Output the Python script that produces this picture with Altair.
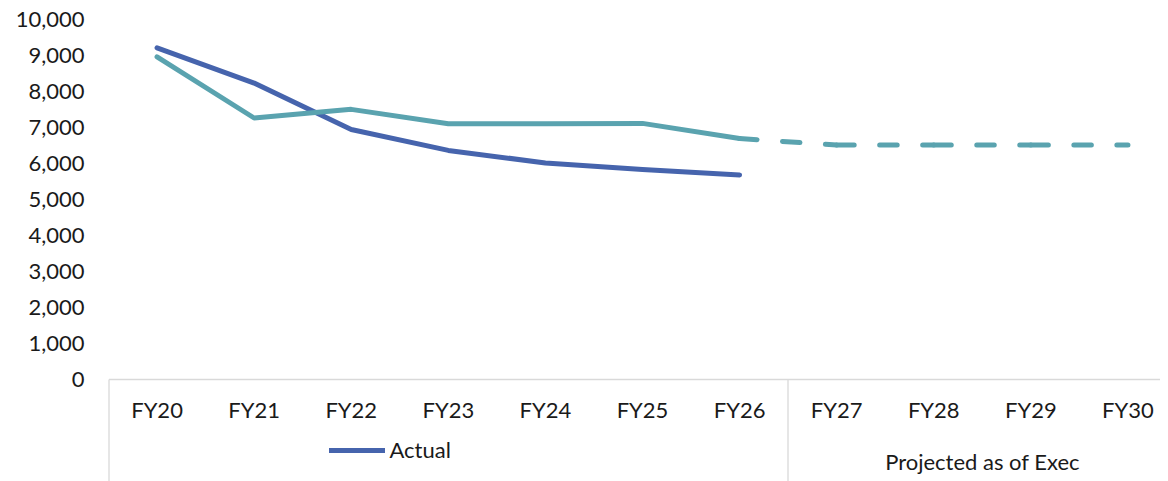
import altair as alt
import pandas as pd

# ---- data ----
years = ["FY20", "FY21", "FY22", "FY23", "FY24", "FY25", "FY26",
         "FY27", "FY28", "FY29", "FY30"]
actual_years = ["FY20", "FY21", "FY22", "FY23", "FY24", "FY25", "FY26"]
actual_values = [9200, 8220, 6930, 6350, 6000, 5820, 5670]
plan_years = ["FY20", "FY21", "FY22", "FY23", "FY24", "FY25", "FY26"]
plan_values = [8950, 7250, 7490, 7090, 7090, 7100, 6680]
proj_years = ["FY26", "FY27", "FY28", "FY29", "FY30"]
proj_values = [6680, 6500, 6500, 6500, 6500]
y_ticks = [0, 1000, 2000, 3000, 4000, 5000, 6000, 7000, 8000, 9000, 10000]
series_names = ["Actual", "Projected"]
legend_values = ["Actual"]
group_labels = ["Projected as of Exec"]
group_anchors = ["FY29"]
boundary_years = ["FY20", "FY27"]

BLUE = "#4664AD"
TEAL = "#5AA3AF"
GRAY = "#D9D9D9"
TEXT = "#1a1a1a"
FONT = "Lato"
FS = 22

actual_df = pd.DataFrame({"year": actual_years, "value": actual_values, "series": "Actual"})
plan_df = pd.DataFrame({"year": plan_years, "value": plan_values, "series": "Projected"})
rows = []
for i in range(len(proj_years) - 1):
    for j in (i, i + 1):
        rows.append({"year": proj_years[j], "value": proj_values[j],
                     "series": "Projected", "seg": i})
proj_df = pd.DataFrame(rows)
label_df = pd.DataFrame({"year": group_anchors, "label": group_labels})

x_scale = alt.Scale(domain=years, type="band", range=[0, 1068],
                    paddingInner=0, paddingOuter=0)
y_scale = alt.Scale(domain=[0, 10000])
color_scale = alt.Scale(domain=series_names, range=[BLUE, TEAL])

main_x_axis = alt.Axis(orient="bottom", title=None, labelAngle=0, ticks=False,
                       tickSize=0, domainColor=GRAY, domainWidth=1.3,
                       labelPadding=21, labelFontSize=FS, labelFont=FONT,
                       labelColor=TEXT, labelBaseline="top", grid=False)
tick_axis = alt.Axis(orient="bottom", values=boundary_years, bandPosition=0,
                     labels=False, domain=False, ticks=True, tickSize=110,
                     tickColor=GRAY, tickWidth=1.3, title=None, grid=False)

y_enc = alt.Y("value:Q", scale=y_scale,
              axis=alt.Axis(values=y_ticks, format=",.0f", title=None, domain=False,
                            ticks=False, grid=False, labelPadding=24.5,
                            labelFontSize=FS, labelFont=FONT, labelColor=TEXT))
color_enc = alt.Color("series:N", scale=color_scale,
                      legend=alt.Legend(values=legend_values, orient="none",
                                        legendX=218, legendY=401, title=None,
                                        symbolType="stroke", symbolSize=3136,
                                        symbolStrokeWidth=5, labelFontSize=FS,
                                        labelFont=FONT, labelColor=TEXT,
                                        labelOffset=2, padding=0))

line_props = dict(strokeWidth=5, strokeCap="round", strokeJoin="round")

actual_line = alt.Chart(actual_df).mark_line(**line_props).encode(
    x=alt.X("year:N", scale=x_scale, bandPosition=0.5, axis=main_x_axis),
    y=y_enc, color=color_enc)
plan_line = alt.Chart(plan_df).mark_line(**line_props).encode(
    x=alt.X("year:N", scale=x_scale, bandPosition=0.5, axis=None),
    y=y_enc, color=color_enc)
proj_line = alt.Chart(proj_df).mark_line(strokeDash=[17.5, 25.5], **line_props).encode(
    x=alt.X("year:N", scale=x_scale, bandPosition=0.5, axis=None),
    y=y_enc, color=color_enc, detail="seg:N")
group_text = alt.Chart(label_df).mark_text(
    font=FONT, fontSize=FS, color=TEXT, align="center", baseline="middle").encode(
    x=alt.X("year:N", scale=x_scale, bandPosition=0, axis=tick_axis),
    y=alt.value(444), text="label:N")

chart = alt.layer(actual_line, plan_line, proj_line, group_text).resolve_axis(
    x="independent").properties(
    width=1051.5, height=360,
    autosize=alt.AutoSizeParams(type="none"),
    padding={"left": 100.5, "top": 11, "right": 0, "bottom": 102},
).configure_view(stroke=None)

chart.save("out.html", embed_options={"renderer": "svg", "actions": False})
